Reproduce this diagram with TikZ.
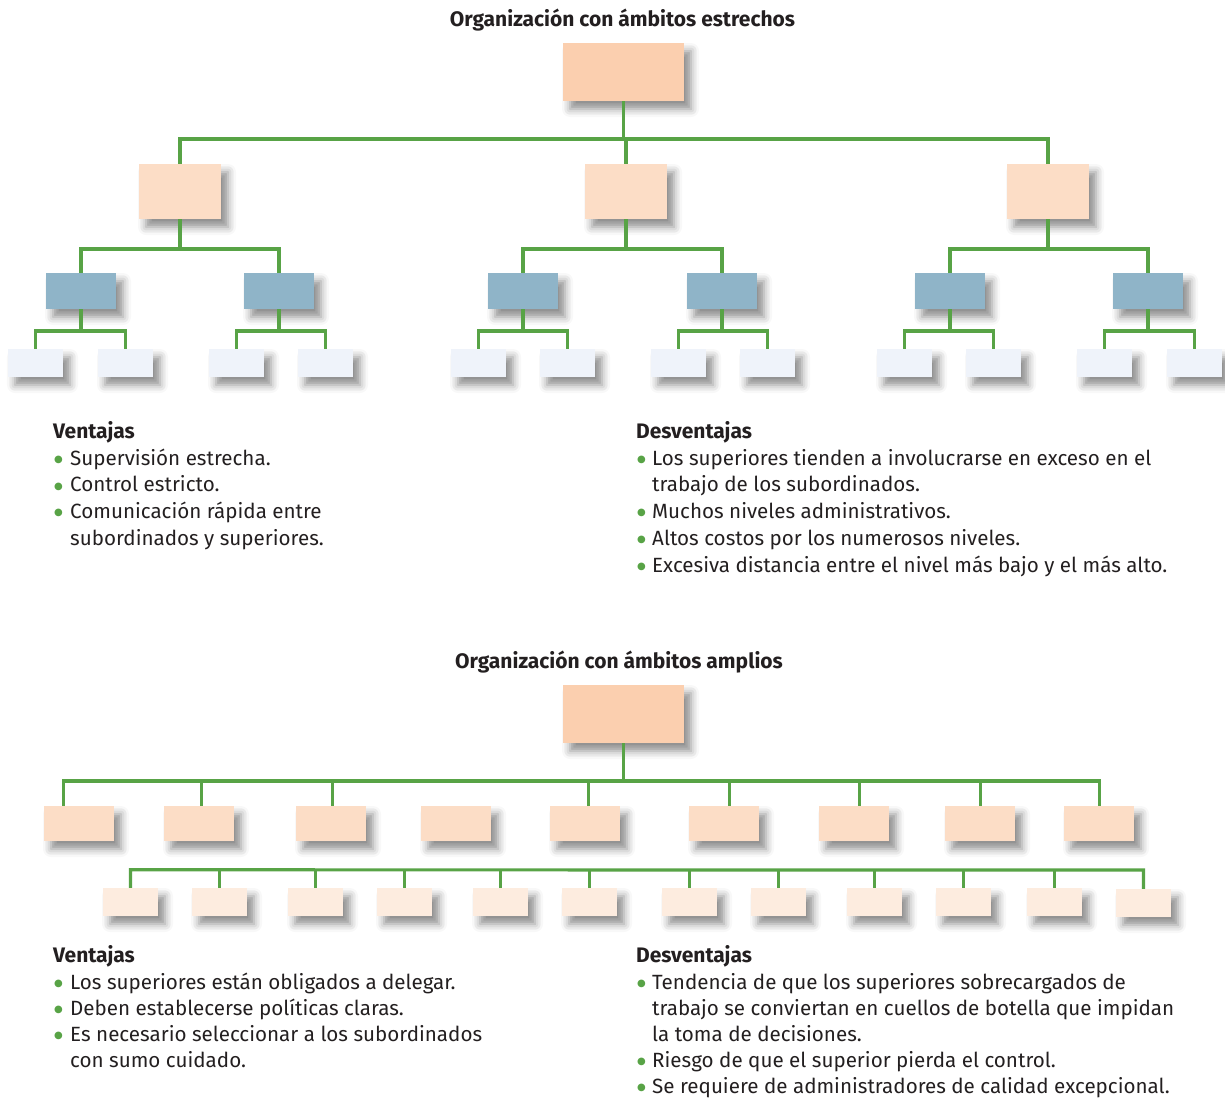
\documentclass[tikz,border=0pt]{standalone}
\usepackage{fontspec}
\setmainfont{Fira Sans}
\newfontfamily\djv{DejaVu Sans}
\usetikzlibrary{shadows.blur}
\definecolor{rootc}{RGB}{251,207,175}
\definecolor{midc}{RGB}{252,221,198}
\definecolor{bluec}{RGB}{143,180,200}
\definecolor{leafc}{RGB}{239,243,250}
\definecolor{lowc}{RGB}{253,236,223}
\definecolor{linec}{RGB}{88,163,70}
\definecolor{txtc}{RGB}{35,31,32}
\tikzset{
  orgbox/.style={draw=none, inner sep=0pt, rectangle,
    blur shadow={shadow xshift=7pt, shadow yshift=-8pt, shadow blur radius=8pt, shadow opacity=45}},
  rootbox/.style={orgbox, fill=rootc, minimum width=121pt, minimum height=58pt},
  midbox/.style={orgbox, fill=midc, minimum width=82pt, minimum height=55pt},
  bluebox/.style={orgbox, fill=bluec, minimum width=70pt, minimum height=36pt},
  leafbox/.style={orgbox, fill=leafc, minimum width=55pt, minimum height=28pt},
  widebox/.style={orgbox, fill=midc, minimum width=70pt, minimum height=35pt},
  lowbox/.style={orgbox, fill=lowc, minimum width=55pt, minimum height=28pt},
  conn/.style={draw=linec, line width=3.2pt},
  txt/.style={anchor=base west, inner sep=0pt, text=txtc, font=\fontsize{20.6}{27}\selectfont},
  head/.style={txt, font=\fontsize{21}{27}\selectfont\bfseries},
  ttl/.style={anchor=base, inner sep=0pt, text=txtc, font=\fontsize{21}{27}\selectfont\bfseries}
}
\newcommand{\bdot}{\raisebox{2.6pt}{\textcolor{linec}{\djv\fontsize{10}{10}\selectfont ●}}}
\newcommand{\bul}{\makebox[16pt][l]{\bdot}}
\newcommand{\bulb}{\makebox[15pt][l]{\bdot}}
\begin{document}
\begin{tikzpicture}[x=1pt,y=-1pt]
\useasboundingbox (0,0) rectangle (1225,1100);
% ---------------- top chart ----------------
\node[ttl] (t1) at (622.5,26) {Organización con ámbitos estrechos};
\node[rootbox] (r) at (623.5,72) {};
\coordinate (y1) at (0,139);
\coordinate (y2) at (0,249);
\coordinate (y3) at (0,331);
\foreach \n/\x in {a/180,b/626,c/1048}{
  \node[midbox] (m\n) at (\x,191.5) {};
}
\foreach \n/\x in {1/81,2/279,3/523,4/722,5/950,6/1148}{
  \node[bluebox] (u\n) at (\x,291) {};
}
\foreach \n/\x in {1/35.5,2/125.5,3/236.5,4/325.5,5/478.5,6/567.5,7/678.5,8/767.5,9/904.5,10/993.5,11/1104.5,12/1194.5}{
  \node[leafbox] (l\n) at (\x,363) {};
}
\foreach \c in {ma,mb,mc}{
  \draw[conn] (r.south) -- (r.south |- y1) -| (\c.north);
}
\foreach \p/\a/\b in {ma/u1/u2,mb/u3/u4,mc/u5/u6}{
  \draw[conn] (\p.south) -- (\p.south |- y2) -| (\a.north);
  \draw[conn] (\p.south) -- (\p.south |- y2) -| (\b.north);
}
\foreach \p/\a/\b in {u1/l1/l2,u2/l3/l4,u3/l5/l6,u4/l7/l8,u5/l9/l10,u6/l11/l12}{
  \draw[conn] (\p.south) -- (\p.south |- y3) -| (\a.north);
  \draw[conn] (\p.south) -- (\p.south |- y3) -| (\b.north);
}
% top texts
\node[head] (v1h) at (53,438) {Ventajas};
\node[txt] (v1a) at (54,465) {\bul Supervisión estrecha.};
\node[txt] (v1b) at (54,491.75) {\bul Control estricto.};
\node[txt] (v1c) at (54,518.5) {\bul Comunicación rápida entre};
\node[txt] (v1d) at (70,545.25) {subordinados y superiores.};
\node[head] (d1h) at (636,438) {Desventajas};
\node[txt] (d1a) at (637,465) {\bulb Los superiores tienden a involucrarse en exceso en el};
\node[txt] (d1b) at (652,491.75) {trabajo de los subordinados.};
\node[txt] (d1c) at (637,518.5) {\bulb Muchos niveles administrativos.};
\node[txt] (d1d) at (637,545.25) {\bulb Altos costos por los numerosos niveles.};
\node[txt] (d1e) at (637,572) {\bulb Excesiva distancia entre el nivel más bajo y el más alto.};
% ---------------- bottom chart ----------------
\node[ttl] (t2) at (619,668) {Organización con ámbitos amplios};
\node[rootbox] (R) at (623.5,714) {};
\coordinate (Y1) at (0,781);
\coordinate (Y2) at (0,870);
\foreach \n/\x in {1/79,2/199,3/331,4/456,5/585,6/724,7/854,8/980,9/1099}{
  \node[widebox] (w\n) at (\x,823.5) {};
}
\foreach \n/\x in {1/130.5,2/219.5,3/315.5,4/404.5,5/500.5,6/589.5,7/689.5,8/778.5,9/874.5,10/963.5,11/1054.5}{
  \node[lowbox] (s\n) at (\x,902) {};
}
\node[lowbox] (s12) at (1143.5,903) {};
\coordinate (e1) at ([xshift=20pt]w1.north west);
\coordinate (e9) at ([xshift=36pt]w9.north west);
% bus of level 2
\draw[conn] (R.south) -- (R.south |- Y1);
\draw[conn] (e1) -- (e1 |- Y1) -- (e9 |- Y1) -- (e9);
\foreach \n/\d in {2/38,3/37,5/39,6/41,7/41,8/36}{
  \draw[conn] ([xshift=\d pt]w\n.north west) -- ++(0,-25);
}
% bus of level 3 (not connected to parent)
\draw[conn] (s1.north) -- ++(0,-18) -- (s12.north |- Y2) -- (s12.north);
\foreach \n in {2,...,11}{
  \draw[conn] (s\n.north) -- ++(0,-18);
}
% bottom texts
\node[head] (v2h) at (53,962) {Ventajas};
\node[txt] (v2a) at (54,989) {\bul Los superiores están obligados a delegar.};
\node[txt] (v2b) at (54,1015.1) {\bul Deben establecerse políticas claras.};
\node[txt] (v2c) at (54,1041.2) {\bul Es necesario seleccionar a los subordinados};
\node[txt] (v2d) at (70,1067.3) {con sumo cuidado.};
\node[head] (d2h) at (636,962) {Desventajas};
\node[txt] (d2a) at (637,989) {\bulb Tendencia de que los superiores sobrecargados de};
\node[txt] (d2b) at (652,1015.1) {trabajo se conviertan en cuellos de botella que impidan};
\node[txt] (d2c) at (652,1041.2) {la toma de decisiones.};
\node[txt] (d2d) at (637,1067.3) {\bulb Riesgo de que el superior pierda el control.};
\node[txt] (d2e) at (637,1093.4) {\bulb Se requiere de administradores de calidad excepcional.};
\end{tikzpicture}
\end{document}
